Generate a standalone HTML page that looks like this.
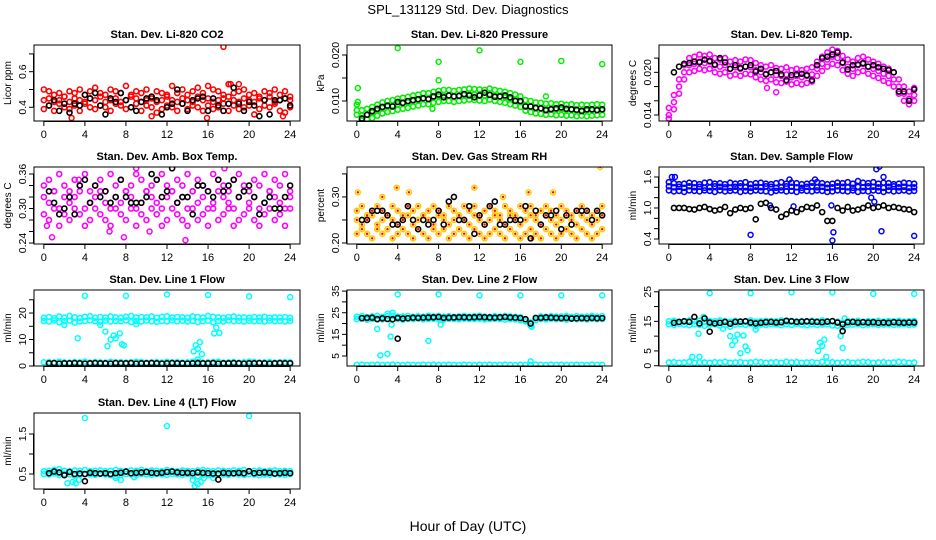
<!DOCTYPE html>
<html><head><meta charset="utf-8"><title>SPL_131129 Std. Dev. Diagnostics</title>
<style>html,body{margin:0;padding:0;background:#fff}svg{display:block;font-family:"Liberation Sans",sans-serif}</style></head>
<body>
<svg id="chart" width="936" height="540" viewBox="0 0 936 540" xmlns="http://www.w3.org/2000/svg">
<text x="468" y="14" text-anchor="middle" font-size="13">SPL_131129  Std. Dev. Diagnostics</text>
<text x="468" y="531" text-anchor="middle" font-size="14">Hour of Day (UTC)</text>
</svg>
<script>
const hours = [0,0.5,1,1.5,2,2.5,3,3.5,4,4.5,5,5.5,6,6.5,7,7.5,8,8.5,9,9.5,10,10.5,11,11.5,12,12.5,13,13.5,14,14.5,15,15.5,16,16.5,17,17.5,18,18.5,19,19.5,20,20.5,21,21.5,22,22.5,23,23.5,24];
const blkHours = [0.5,1,1.5,2,2.5,3,3.5,4,4.5,5,5.5,6,6.5,7,7.5,8,8.5,9,9.5,10,10.5,11,11.5,12,12.5,13,13.5,14,14.5,15,15.5,16,16.5,17,17.5,18,18.5,19,19.5,20,20.5,21,21.5,22,22.5,23,23.5,24];
const xTicks = [0,4,8,12,16,20,24];

// CO2
const co2Hi = [0.50,0.49,0.47,0.48,0.46,0.49,0.48,0.50,0.47,0.49,0.51,0.48,0.47,0.50,0.49,0.48,0.52,0.47,0.49,0.48,0.50,0.46,0.49,0.48,0.47,0.52,0.48,0.50,0.47,0.49,0.51,0.48,0.52,0.50,0.49,0.47,0.53,0.48,0.49,0.50,0.47,0.48,0.46,0.49,0.48,0.50,0.47,0.49,0.46];
const co2Mid = [0.44,0.45,0.43,0.44,0.46,0.43,0.45,0.44,0.43,0.45,0.44,0.46,0.43,0.44,0.45,0.43,0.44,0.46,0.45,0.43,0.44,0.45,0.43,0.44,0.46,0.44,0.43,0.45,0.44,0.43,0.46,0.44,0.45,0.43,0.44,0.45,0.46,0.44,0.43,0.45,0.44,0.43,0.45,0.44,0.46,0.43,0.44,0.45,0.44];
const co2Lo = [0.39,0.41,0.38,0.42,0.40,0.39,0.41,0.38,0.42,0.40,0.39,0.41,0.40,0.38,0.42,0.41,0.39,0.40,0.42,0.38,0.41,0.40,0.37,0.39,0.41,0.40,0.38,0.42,0.39,0.41,0.40,0.38,0.41,0.39,0.40,0.42,0.38,0.41,0.39,0.40,0.41,0.36,0.39,0.41,0.40,0.42,0.38,0.37,0.40];
const co2OutX = [17.5,10.5,15.9,2.7,23.3,19.0,18.2];
const co2OutY = [0.74,0.35,0.34,0.34,0.35,0.53,0.53];
const co2Blk = [0.41,0.44,0.38,0.42,0.37,0.42,0.41,0.47,0.45,0.48,0.41,0.36,0.45,0.43,0.48,0.44,0.40,0.38,0.43,0.45,0.46,0.44,0.36,0.40,0.42,0.50,0.42,0.38,0.44,0.45,0.46,0.38,0.45,0.41,0.38,0.42,0.51,0.42,0.38,0.43,0.41,0.35,0.44,0.36,0.44,0.44,0.45,0.41];

// Pressure
const prHi = [0.0092,0.0080,0.0083,0.0087,0.0092,0.0097,0.0100,0.0102,0.0105,0.0107,0.0109,0.0112,0.0114,0.0117,0.0117,0.0120,0.0122,0.0124,0.0124,0.0122,0.0124,0.0125,0.0127,0.0126,0.0125,0.0124,0.0127,0.0124,0.0122,0.0120,0.0117,0.0114,0.0110,0.0102,0.0100,0.0097,0.0096,0.0094,0.0095,0.0093,0.0094,0.0092,0.0093,0.0091,0.0092,0.0091,0.0092,0.0093,0.0092];
const prMid = [0.0080,0.0068,0.0070,0.0075,0.0080,0.0085,0.0088,0.0090,0.0093,0.0095,0.0097,0.0100,0.0102,0.0105,0.0105,0.0108,0.0110,0.0112,0.0112,0.0110,0.0112,0.0113,0.0115,0.0114,0.0113,0.0112,0.0115,0.0112,0.0110,0.0108,0.0105,0.0102,0.0098,0.0090,0.0088,0.0085,0.0084,0.0082,0.0083,0.0081,0.0082,0.0080,0.0081,0.0079,0.0080,0.0079,0.0080,0.0081,0.0080];
const prLo = [0.0070,0.0060,0.0060,0.0063,0.0068,0.0073,0.0076,0.0078,0.0081,0.0083,0.0085,0.0088,0.0090,0.0093,0.0093,0.0096,0.0098,0.0100,0.0100,0.0098,0.0100,0.0101,0.0103,0.0102,0.0101,0.0100,0.0103,0.0100,0.0098,0.0096,0.0093,0.0090,0.0087,0.0079,0.0076,0.0073,0.0072,0.0070,0.0071,0.0069,0.0070,0.0068,0.0069,0.0067,0.0068,0.0067,0.0068,0.0069,0.0070];
const prOutX = [0.1,4,8,8,12,16,20,24,7.4,18.5,0.1];
const prOutY = [0.0128,0.0215,0.0185,0.0145,0.0210,0.0185,0.0187,0.0180,0.0083,0.0110,0.0098];
const prBlk = [0.0062,0.0070,0.0078,0.0083,0.0087,0.0090,0.0088,0.0098,0.0096,0.0100,0.0102,0.0104,0.0106,0.0104,0.0110,0.0114,0.0108,0.0112,0.0110,0.0111,0.0115,0.0112,0.0108,0.0112,0.0118,0.0113,0.0109,0.0110,0.0112,0.0108,0.0100,0.0100,0.0088,0.0088,0.0085,0.0084,0.0080,0.0082,0.0084,0.0086,0.0083,0.0082,0.0081,0.0078,0.0082,0.0082,0.0080,0.0082];

// Li-820 Temp
const tpHi = [0.0150,0.0168,0.0190,0.0210,0.0220,0.0222,0.0225,0.0223,0.0225,0.0220,0.0218,0.0220,0.0215,0.0217,0.0215,0.0218,0.0217,0.0213,0.0210,0.0208,0.0210,0.0206,0.0205,0.0207,0.0203,0.0205,0.0203,0.0205,0.0207,0.0215,0.0222,0.0228,0.0232,0.0230,0.0223,0.0218,0.0215,0.0220,0.0222,0.0218,0.0215,0.0212,0.0208,0.0205,0.0200,0.0190,0.0180,0.0173,0.0178];
const tpMid = [0.0140,0.0158,0.0180,0.0200,0.0210,0.0212,0.0215,0.0213,0.0215,0.0210,0.0208,0.0210,0.0205,0.0207,0.0205,0.0208,0.0207,0.0203,0.0200,0.0198,0.0200,0.0196,0.0195,0.0197,0.0193,0.0195,0.0193,0.0195,0.0197,0.0205,0.0212,0.0218,0.0222,0.0220,0.0213,0.0208,0.0205,0.0210,0.0212,0.0208,0.0205,0.0202,0.0198,0.0195,0.0190,0.0180,0.0170,0.0163,0.0168];
const tpLo = [0.0135,0.0148,0.0170,0.0190,0.0200,0.0202,0.0205,0.0203,0.0205,0.0200,0.0198,0.0200,0.0195,0.0197,0.0195,0.0198,0.0197,0.0193,0.0190,0.0188,0.0190,0.0186,0.0185,0.0187,0.0183,0.0185,0.0183,0.0185,0.0187,0.0195,0.0202,0.0208,0.0212,0.0210,0.0203,0.0198,0.0195,0.0200,0.0202,0.0198,0.0195,0.0192,0.0188,0.0185,0.0180,0.0170,0.0160,0.0155,0.0160];
const tpOutX = [10.5,9.6];
const tpOutY = [0.0172,0.0178];
const tpBlk = [0.0200,0.0208,0.0212,0.0213,0.0215,0.0214,0.0218,0.0216,0.0211,0.0220,0.0214,0.0205,0.0210,0.0206,0.0208,0.0210,0.0201,0.0205,0.0197,0.0200,0.0202,0.0197,0.0189,0.0196,0.0197,0.0198,0.0196,0.0189,0.0210,0.0220,0.0222,0.0225,0.0228,0.0214,0.0204,0.0210,0.0211,0.0213,0.0208,0.0210,0.0207,0.0205,0.0203,0.0200,0.0173,0.0173,0.0160,0.0176];

// Amb box temp
const abHi = [0.34,0.35,0.33,0.36,0.34,0.33,0.35,0.34,0.36,0.33,0.34,0.35,0.33,0.36,0.34,0.35,0.33,0.34,0.36,0.35,0.33,0.34,0.35,0.36,0.34,0.33,0.35,0.34,0.36,0.33,0.35,0.34,0.33,0.36,0.35,0.34,0.33,0.35,0.36,0.34,0.33,0.35,0.34,0.36,0.33,0.35,0.34,0.36,0.33];
const abMid = [0.32,0.31,0.33,0.30,0.32,0.31,0.32,0.33,0.30,0.31,0.32,0.33,0.31,0.30,0.32,0.31,0.33,0.32,0.30,0.31,0.33,0.32,0.31,0.30,0.32,0.33,0.31,0.32,0.30,0.33,0.31,0.32,0.30,0.31,0.33,0.32,0.31,0.30,0.32,0.33,0.31,0.32,0.30,0.31,0.33,0.32,0.31,0.30,0.32];
const abLo = [0.29,0.28,0.30,0.27,0.29,0.28,0.30,0.29,0.27,0.28,0.30,0.29,0.28,0.27,0.30,0.29,0.28,0.30,0.27,0.29,0.28,0.30,0.29,0.27,0.28,0.30,0.29,0.28,0.27,0.30,0.28,0.29,0.27,0.30,0.28,0.29,0.30,0.27,0.28,0.29,0.30,0.28,0.27,0.29,0.30,0.28,0.29,0.27,0.30];
const abOutX = [0.8,7.8,13.8,17.6,0.3,6.4,10.3,3.4,9.0];
const abOutY = [0.25,0.25,0.245,0.37,0.27,0.26,0.26,0.35,0.37];
const abBlk = [0.33,0.31,0.29,0.30,0.32,0.29,0.34,0.35,0.31,0.34,0.32,0.33,0.31,0.32,0.35,0.32,0.31,0.31,0.31,0.32,0.36,0.35,0.32,0.33,0.37,0.31,0.32,0.32,0.29,0.34,0.34,0.33,0.32,0.35,0.33,0.34,0.35,0.32,0.33,0.34,0.32,0.29,0.31,0.32,0.30,0.30,0.32,0.34];

// Gas stream RH
const rhHi = [0.27,0.28,0.26,0.27,0.28,0.27,0.26,0.28,0.27,0.26,0.28,0.27,0.28,0.26,0.27,0.28,0.27,0.26,0.28,0.27,0.26,0.28,0.27,0.28,0.26,0.27,0.28,0.27,0.26,0.28,0.27,0.26,0.28,0.27,0.28,0.26,0.27,0.28,0.27,0.26,0.28,0.27,0.26,0.27,0.28,0.27,0.26,0.27,0.28];
const rhMid = [0.25,0.24,0.25,0.26,0.24,0.25,0.26,0.25,0.24,0.25,0.26,0.24,0.25,0.26,0.25,0.24,0.26,0.25,0.24,0.25,0.26,0.25,0.24,0.26,0.25,0.24,0.25,0.26,0.25,0.24,0.26,0.25,0.24,0.25,0.26,0.25,0.24,0.26,0.25,0.24,0.25,0.26,0.25,0.24,0.26,0.25,0.24,0.25,0.26];
const rhLo = [0.22,0.23,0.22,0.21,0.23,0.22,0.23,0.21,0.22,0.23,0.22,0.21,0.23,0.22,0.21,0.23,0.22,0.23,0.21,0.22,0.23,0.22,0.21,0.23,0.22,0.21,0.22,0.23,0.22,0.21,0.23,0.22,0.21,0.22,0.23,0.22,0.21,0.23,0.22,0.21,0.22,0.23,0.22,0.21,0.23,0.22,0.21,0.22,0.23];
const rhOutX = [0.1,3.9,5.1,11.5,23.8,17.1,16.8,2.5,14.3,19.2];
const rhOutY = [0.31,0.32,0.31,0.32,0.365,0.21,0.31,0.30,0.30,0.31];
const rhBlk = [0.25,0.25,0.27,0.27,0.27,0.26,0.24,0.24,0.25,0.28,0.25,0.23,0.25,0.24,0.25,0.27,0.24,0.29,0.30,0.25,0.25,0.28,0.22,0.26,0.24,0.28,0.29,0.24,0.24,0.25,0.25,0.25,0.28,0.21,0.27,0.24,0.26,0.26,0.27,0.23,0.26,0.24,0.27,0.27,0.27,0.25,0.27,0.26];

// Sample flow
const sfHi = [1.50,1.48,1.46,1.47,1.49,1.48,1.46,1.49,1.50,1.47,1.48,1.46,1.49,1.47,1.48,1.50,1.46,1.48,1.49,1.47,1.46,1.48,1.50,1.47,1.49,1.48,1.46,1.47,1.49,1.50,1.48,1.46,1.47,1.49,1.48,1.50,1.47,1.52,1.49,1.48,1.50,1.47,1.49,1.48,1.46,1.47,1.49,1.48,1.47];
const sfMid = [1.42,1.40,1.41,1.39,1.42,1.40,1.41,1.39,1.40,1.42,1.41,1.40,1.39,1.41,1.42,1.40,1.39,1.41,1.40,1.42,1.41,1.39,1.40,1.42,1.41,1.40,1.39,1.41,1.42,1.40,1.41,1.39,1.40,1.42,1.41,1.40,1.39,1.41,1.40,1.42,1.41,1.40,1.39,1.41,1.42,1.40,1.41,1.39,1.40];
const sfLo = [1.34,1.32,1.33,1.31,1.34,1.33,1.32,1.34,1.33,1.31,1.34,1.32,1.33,1.34,1.31,1.33,1.32,1.34,1.33,1.32,1.30,1.33,1.34,1.32,1.33,1.31,1.34,1.33,1.32,1.34,1.33,1.31,1.32,1.34,1.33,1.32,1.34,1.31,1.33,1.32,1.34,1.33,1.31,1.34,1.32,1.33,1.34,1.32,1.33];
const sfOutX = [8,16,16.1,20.8,24,20.3,20.6,20.1,15.9,9.9,12.2,0.3,0.6,19.8,21.0,11.8,14.3];
const sfOutY = [0.48,0.37,0.53,0.55,0.46,1.75,1.80,1.12,1.05,1.05,1.03,1.60,1.60,1.20,1.60,1.55,1.55];
const sfBlk = [1.00,1.00,1.00,0.98,0.97,1.00,1.02,0.98,0.95,0.97,1.02,0.90,0.97,1.00,0.98,1.00,0.78,1.08,1.10,1.00,0.97,0.83,0.88,0.95,0.92,0.98,1.02,1.00,1.05,0.92,0.75,0.75,1.00,0.95,1.02,0.95,0.97,1.00,1.05,1.00,1.02,1.05,1.00,1.02,1.00,0.98,0.97,0.92];

// Line 1 flow
const l1Hi = [18.2,18.5,18.0,18.7,18.3,18.9,18.4,18.1,18.6,18.8,18.2,18.5,18.3,18.7,18.4,18.2,18.6,18.9,18.3,18.5,18.4,18.7,18.2,18.6,18.8,18.3,18.5,18.4,18.2,18.7,18.5,18.3,18.9,18.6,18.4,18.2,18.5,18.7,18.3,18.4,18.2,18.5,18.3,18.6,18.2,18.4,18.3,18.5,18.2];
const l1Lo = [17.0,16.8,17.2,16.5,16.9,17.1,16.4,16.8,17.0,17.2,16.9,16.7,17.1,16.8,17.0,16.9,17.2,16.6,17.0,16.8,17.1,16.9,16.7,17.0,16.8,17.2,16.9,17.1,16.8,17.0,16.6,16.9,17.1,16.5,17.0,16.8,17.2,16.9,17.0,16.8,17.1,16.9,17.0,16.8,17.1,16.9,17.0,16.8,17.0];
const l1Base = [1.4,1.5,1.3,1.6,1.4,1.3,1.5,1.4,1.6,1.3,1.5,1.4,1.3,1.6,1.4,1.5,1.3,1.4,1.6,1.5,1.3,1.4,1.5,1.3,1.6,1.4,1.5,1.3,1.4,1.6,1.5,1.3,1.4,1.5,1.6,1.3,1.4,1.5,1.3,1.4,1.6,1.5,1.3,1.4,1.5,1.3,1.4,1.5,1.4];
const l1OutX = [4,8,12,16,20,24,3.3,6,6.2,6.5,6.8,7.0,7.4,7.6,7.8,14.6,14.8,15.0,15.2,15.4,15.0,16.6,16.8,17.1,2.0,5.5,9.0];
const l1OutY = [26.5,26.5,27,26.8,26.3,26,10.5,13,7.5,10,11.5,10.5,12.3,8.2,7.8,5.5,7.8,6.5,9,4.5,2.5,12.3,14.5,12.5,15.5,15.5,15.8];
const l1Blk = [1.0,1.1,0.9,1.0,1.0,1.1,1.0,0.9,1.0,1.1,1.0,1.0,0.9,1.1,1.0,1.0,1.1,0.9,1.0,1.0,1.1,1.0,0.9,1.0,1.1,1.0,1.0,0.9,1.0,1.1,1.0,1.0,1.1,0.9,1.0,1.0,1.1,1.0,0.9,1.0,1.0,1.1,1.0,0.9,1.0,1.1,1.0,1.0];

// Line 2 flow
const l2Hi = [23.2,23.4,23.0,23.3,23.5,23.1,23.4,23.6,23.2,23.3,23.5,23.1,23.4,23.2,23.6,23.3,23.5,23.2,23.4,23.1,23.3,23.5,23.2,23.4,23.6,23.3,23.1,23.4,23.2,23.5,23.3,23.1,23.0,22.0,20.5,22.5,23.3,23.1,23.4,23.2,23.3,23.5,23.1,23.4,23.2,23.3,23.5,23.2,23.4];
const l2Lo = [22.0,22.2,21.8,22.1,22.3,21.9,22.2,22.0,22.1,21.8,22.2,22.0,22.3,21.9,22.1,22.2,22.0,21.8,22.2,22.1,21.9,22.3,22.0,22.1,22.2,21.9,22.0,22.2,22.1,21.8,22.0,21.9,21.5,21.0,19.0,21.5,22.1,21.9,22.2,22.0,22.1,21.8,22.2,22.0,22.1,21.9,22.2,22.0,22.1];
const l2Base = [0.9,1.0,0.8,0.9,1.0,0.8,0.9,1.0,0.9,0.8,1.0,0.9,0.8,1.0,0.9,1.0,0.8,0.9,1.0,0.9,0.8,1.0,0.9,0.8,1.0,0.9,1.0,0.8,0.9,1.0,0.9,0.8,1.0,0.9,0.8,1.0,0.9,0.8,1.0,0.9,1.0,0.8,0.9,1.0,0.9,0.8,1.0,0.9,0.9];
const l2OutX = [4,8,12,16,20,24,2,2.3,3,3.3,3.4,7,8.2,17,17.1,3.0,3.5];
const l2OutY = [33.5,33.5,33,33,33,33,17.5,5.3,6,14,19.5,12,19.5,2.5,18.5,24.5,25];
const l2Blk = [22.5,22.6,22.7,22.0,22.4,22.1,22.0,22.6,22.3,22.5,22.7,22.6,22.7,22.8,22.9,23.0,22.6,22.7,22.8,22.9,22.9,22.8,22.9,23.0,22.9,22.8,22.7,22.9,23.0,22.8,22.7,22.5,22.0,20.0,22.6,22.6,22.8,22.7,22.6,22.5,22.6,22.3,22.4,22.5,22.4,22.6,22.4,22.5];
const l2BlkOutX = [4];
const l2BlkOutY = [13];

// Line 3 flow
const l3Hi = [15.0,15.2,14.9,15.1,15.3,15.0,15.2,14.9,15.1,15.0,15.3,15.1,14.9,15.2,15.0,15.1,15.3,14.9,15.0,15.2,15.1,15.0,15.3,14.9,15.2,15.0,15.1,14.9,15.2,15.0,15.3,15.1,15.0,14.9,14.5,15.1,15.0,15.2,14.9,15.1,15.0,15.2,14.9,15.1,15.0,15.2,14.9,15.0,15.1];
const l3Lo = [14.0,13.8,14.1,13.9,13.7,14.0,13.8,13.5,13.9,14.0,13.6,13.8,13.2,13.9,14.0,13.8,14.1,13.5,13.9,13.8,14.0,13.9,13.7,14.0,13.8,14.1,13.9,13.7,14.0,13.8,13.9,14.0,13.6,13.5,13.0,13.8,13.9,14.0,13.7,13.9,14.0,13.8,13.9,14.0,13.8,13.9,14.0,13.8,13.9];
const l3Base = [1.1,1.2,1.0,1.1,1.3,1.0,1.2,1.1,1.0,1.2,1.1,1.3,1.0,1.1,1.2,1.0,1.1,1.3,1.2,1.0,1.1,1.2,1.0,1.3,1.1,1.2,1.0,1.1,1.2,1.0,1.3,1.1,1.2,1.0,1.1,1.2,1.0,1.1,1.3,1.2,1.0,1.1,1.2,1.0,1.1,1.3,1.2,1.0,1.1];
const l3OutX = [4,8,12,16,20,24,2.3,3,2.9,3.4,6,6.2,6.5,6.7,7,7.3,7.5,7.7,14.6,14.8,15,15.2,15.4,16.8,17,17.2,5.3,8.5];
const l3OutY = [24.5,24.5,24.8,24.8,24.3,24.3,3,3,10.8,16.5,10,7,8.5,10.5,4.2,10.2,6.5,5.2,5,7.8,6.7,8.8,3,10,6,16,12.5,12.2];
const l3Blk = [14.5,14.8,15.0,14.8,16.5,14.3,16.0,14.6,14.3,14.5,14.8,14.2,14.8,14.9,15.0,14.6,14.3,14.5,14.7,14.8,14.6,14.7,15.2,15.0,14.8,14.9,15.0,14.9,14.8,14.7,14.9,15.1,14.6,14.0,14.7,14.8,14.6,14.7,14.6,14.7,14.5,14.6,14.5,14.7,14.6,14.5,14.6,14.6];
const l3BlkOutX = [4,17];
const l3BlkOutY = [11.5,11.7];

// Line 4 flow
const l4Hi = [0.57,0.58,0.60,0.62,0.58,0.57,0.59,0.58,0.60,0.57,0.58,0.59,0.57,0.58,0.60,0.58,0.57,0.59,0.58,0.60,0.57,0.59,0.58,0.57,0.60,0.58,0.57,0.59,0.58,0.57,0.59,0.60,0.58,0.57,0.59,0.58,0.57,0.59,0.58,0.60,0.57,0.58,0.59,0.57,0.58,0.59,0.57,0.58,0.57];
const l4Lo = [0.50,0.49,0.51,0.48,0.50,0.49,0.46,0.48,0.50,0.49,0.48,0.50,0.49,0.47,0.45,0.48,0.50,0.49,0.48,0.50,0.49,0.48,0.50,0.49,0.48,0.50,0.49,0.48,0.50,0.46,0.44,0.48,0.47,0.48,0.50,0.49,0.48,0.50,0.49,0.48,0.50,0.49,0.47,0.49,0.48,0.50,0.49,0.48,0.50];
const l4OutX = [4,12,20,2.3,2.8,3.1,3.4,7,7.5,14.5,14.7,15,15.3,15.6,16.5,8.8];
const l4OutY = [1.9,1.7,1.95,0.27,0.3,0.27,0.35,0.4,0.35,0.35,0.2,0.25,0.3,0.4,0.4,0.42];
const l4Blk = [0.52,0.56,0.54,0.47,0.55,0.50,0.51,0.50,0.53,0.52,0.51,0.52,0.50,0.52,0.53,0.56,0.52,0.53,0.54,0.55,0.53,0.52,0.53,0.55,0.56,0.54,0.53,0.53,0.52,0.54,0.53,0.52,0.51,0.51,0.53,0.52,0.52,0.53,0.52,0.57,0.52,0.53,0.54,0.53,0.51,0.52,0.53,0.52];
const l4BlkOutX = [4,17];
const l4BlkOutY = [0.32,0.36];

// panel frames (layout only)
const cols = [[34,300],[347,612],[659,924]];
const rows = [[45,121],[167,244],[290,366],[413,489]];

const panels = [
 {name:'co2',title:'Stan. Dev. Li-820 CO2',ylab:'Licor ppm',c:0,r:0,ymin:0.323,ymax:0.75,ticks:[0.4,0.5,0.6,0.7],labels:['0.4','','0.6',''],color:'#ff0000',series:[co2Hi,co2Mid,co2Lo],ox:co2OutX,oy:co2OutY,blk:co2Blk},
 {name:'pressure',title:'Stan. Dev. Li-820 Pressure',ylab:'kPa',c:1,r:0,ymin:0.00565,ymax:0.02217,ticks:[0.010,0.015,0.020],labels:['0.010','','0.020'],color:'#00ee00',series:[prHi,prMid,prLo],ox:prOutX,oy:prOutY,blk:prBlk},
 {name:'li820-temp',title:'Stan. Dev. Li-820 Temp.',ylab:'degrees C',c:2,r:0,ymin:0.01316,ymax:0.02384,ticks:[0.014,0.016,0.018,0.020,0.022],labels:['0.014','','','0.020',''],color:'#ff00ff',series:[tpHi,tpMid,tpLo],ox:tpOutX,oy:tpOutY,blk:tpBlk},
 {name:'amb-box-temp',title:'Stan. Dev. Amb. Box Temp.',ylab:'degrees C',c:0,r:1,ymin:0.2383,ymax:0.3722,ticks:[0.24,0.26,0.28,0.30,0.32,0.34,0.36],labels:['0.24','','','0.30','','','0.36'],color:'#ff00ff',series:[abHi,abMid,abLo],ox:abOutX,oy:abOutY,blk:abBlk},
 {name:'gas-stream-rh',title:'Stan. Dev. Gas Stream RH',ylab:'percent',c:1,r:1,ymin:0.1978,ymax:0.365,ticks:[0.20,0.25,0.30,0.35],labels:['0.20','','0.30',''],color:'#ffcc00',dot:'#ff0000',series:[rhHi,rhMid,rhLo],ox:rhOutX,oy:rhOutY,blk:rhBlk},
 {name:'sample-flow',title:'Stan. Dev. Sample Flow',ylab:'ml/min',c:2,r:1,ymin:0.303,ymax:1.793,ticks:[0.4,0.6,0.8,1.0,1.2,1.4,1.6],labels:['0.4','','','1.0','','','1.6'],color:'#0000ff',series:[sfHi,sfMid,sfLo],ox:sfOutX,oy:sfOutY,blk:sfBlk},
 {name:'line1-flow',title:'Stan. Dev. Line 1 Flow',ylab:'ml/min',c:0,r:2,ymin:0,ymax:28.7,ticks:[0,5,10,15,20,25],labels:['0','','10','','20',''],color:'#00ffff',series:[l1Hi,l1Lo,l1Base],ox:l1OutX,oy:l1OutY,blk:l1Blk},
 {name:'line2-flow',title:'Stan. Dev. Line 2 Flow',ylab:'ml/min',c:1,r:2,ymin:0.385,ymax:35.5,ticks:[5,10,15,20,25,30,35],labels:['5','','15','','25','','35'],color:'#00ffff',series:[l2Hi,l2Lo,l2Base],ox:l2OutX,oy:l2OutY,blk:l2Blk,bx:l2BlkOutX,by:l2BlkOutY},
 {name:'line3-flow',title:'Stan. Dev. Line 3 Flow',ylab:'ml/min',c:2,r:2,ymin:-0.1,ymax:25.6,ticks:[0,5,10,15,20,25],labels:['0','5','','15','','25'],color:'#00ffff',series:[l3Hi,l3Lo,l3Base],ox:l3OutX,oy:l3OutY,blk:l3Blk,bx:l3BlkOutX,by:l3BlkOutY},
 {name:'line4-flow',title:'Stan. Dev. Line 4 (LT) Flow',ylab:'ml/min',c:0,r:3,ymin:0.125,ymax:2.025,ticks:[0.5,1.0,1.5],labels:['0.5','','1.5'],color:'#00ffff',series:[l4Hi,l4Lo],ox:l4OutX,oy:l4OutY,blk:l4Blk,bx:l4BlkOutX,by:l4BlkOutY}
];

const NS = 'http://www.w3.org/2000/svg';
const svg = document.getElementById('chart');
function mk(tag, attrs, parent) {
  const e = document.createElementNS(NS, tag);
  for (const k in attrs) e.setAttribute(k, attrs[k]);
  parent.appendChild(e);
  return e;
}

panels.forEach(function (p) {
  const L = cols[p.c][0], R = cols[p.c][1], T = rows[p.r][0], B = rows[p.r][1];
  const xs = function (v) { return L + (v + 0.96) * (R - L) / 25.92; };
  const ys = function (v) { return B - (v - p.ymin) * (B - T) / (p.ymax - p.ymin); };
  const g = mk('g', {}, svg);
  
  

  const t = mk('text', {x: (L + R) / 2, y: T - 7, 'text-anchor': 'middle', 'font-size': 11, 'font-weight': 'bold'}, g);
  
  
  t.textContent = p.title;

  const yl = mk('text', {x: 0, y: 0, transform: 'translate(' + (L - 23) + ',' + ((T + B) / 2) + ') rotate(-90)', 'text-anchor': 'middle', 'font-size': 10}, g);
  
  
  yl.textContent = p.ylab;

  const xa = mk('g', {stroke: '#000', 'stroke-width': 1}, g);
  
  
  mk('line', {x1: xs(xTicks[0]), x2: xs(xTicks[xTicks.length - 1]), y1: B + 0.5, y2: B + 0.5}, xa);
  xTicks.forEach(function (v) {
    mk('line', {x1: xs(v), x2: xs(v), y1: B, y2: B + 5}, xa);
    const tl = mk('text', {x: xs(v), y: B + 17, 'text-anchor': 'middle', 'font-size': 11, stroke: 'none', fill: '#000'}, xa);
    
    
    tl.textContent = String(v);
  });

  const ya = mk('g', {stroke: '#000', 'stroke-width': 1}, g);
  
  
  mk('line', {x1: L - 0.5, x2: L - 0.5, y1: ys(p.ticks[0]), y2: ys(p.ticks[p.ticks.length - 1])}, ya);
  p.ticks.forEach(function (v, i) {
    mk('line', {x1: L - 5, x2: L, y1: ys(v), y2: ys(v)}, ya);
    if (p.labels[i]) {
      const tl = mk('text', {x: 0, y: 0, transform: 'translate(' + (L - 8) + ',' + ys(v) + ') rotate(-90)', 'text-anchor': 'middle', 'font-size': 10.5, stroke: 'none', fill: '#000'}, ya);
      
      
      tl.textContent = p.labels[i];
    }
  });

  const cid = 'clip-' + p.name;
  const cp = mk('clipPath', {id: cid}, g);
  mk('rect', {x: L, y: T, width: R - L, height: B - T}, cp);

  const pts = mk('g', {'clip-path': 'url(#' + cid + ')', fill: 'none'}, g);
  
  
  function dot(x, y, col, sw, nm) {
    const c = mk('circle', {cx: xs(x), cy: ys(y), r: 2.5, stroke: col, 'stroke-width': sw}, pts);
    
    
    if (p.dot && col !== '#000') mk('circle', {cx: xs(x), cy: ys(y), r: 1.2, fill: p.dot, stroke: 'none'}, pts);
  }
  p.series.forEach(function (arr) {
    arr.forEach(function (v, i) { dot(hours[i], v, p.color, 1.6, p.name + '-point'); });
  });
  p.ox.forEach(function (x, i) { dot(x, p.oy[i], p.color, 1.5, p.name + '-outlier'); });
  p.blk.forEach(function (v, i) { dot(blkHours[i], v, '#000', 1.6, p.name + '-mean-point'); });
  if (p.bx) p.bx.forEach(function (x, i) { dot(x, p.by[i], '#000', 1.6, p.name + '-mean-outlier'); });

  const fr = mk('rect', {x: L, y: T, width: R - L, height: B - T, fill: 'none', stroke: '#000', 'stroke-width': 1}, g);
  
  
});
</script>
</body></html>
